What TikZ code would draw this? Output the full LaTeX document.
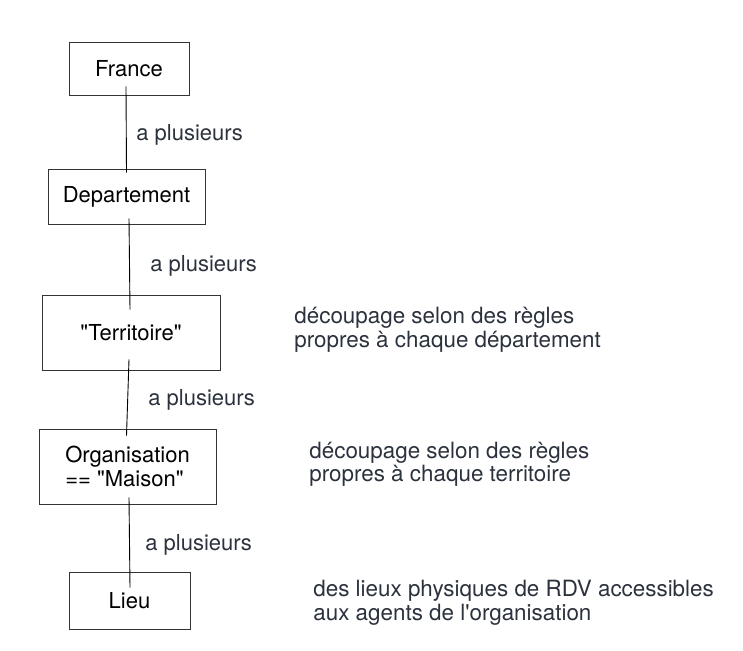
\documentclass[tikz,border=0pt]{standalone}
\usepackage{fontspec}
\setmainfont{TeX Gyre Heros}[Ligatures=TeXOff]
\usepackage{xcolor}
\usepackage{tikz}
\usetikzlibrary{positioning}

\definecolor{noteink}{HTML}{2B323D}
\definecolor{boxline}{HTML}{333333}

\begin{document}
\begin{tikzpicture}[x=1pt,y=-1pt,
                    thick,
                    entity/.style={rectangle,draw=boxline,line width=0.9pt,inner sep=0pt,
                                   font=\fontsize{22}{23.5}\selectfont},
                    link/.style={draw=black,line width=0.9pt},
                    rel/.style={anchor=base west,inner sep=0pt,text=noteink,
                                font=\fontsize{22}{23.5}\selectfont},
                    note/.style={anchor=base west,inner sep=0pt,text=noteink,align=left,
                                 font=\fontsize{22.4}{23.5}\selectfont}]

  \useasboundingbox (0,0) rectangle (743,650);

  \node[entity,minimum width=120pt,minimum height=53pt] (France) at (129,68.5) {France};
  \node[entity,minimum width=157pt,minimum height=55pt] (Dept) at (126.5,196.5) {Departement};
  \node[entity,minimum width=178pt,minimum height=75pt] (Terr) at (131,332.5) {"Territoire"};
  \node[entity,minimum width=177pt,minimum height=75pt,align=left] (Orga) at (127.5,466.5) {Organisation\\== "Maison"};
  \node[entity,minimum width=121pt,minimum height=57pt] (Lieu) at (129.5,600.5) {Lieu};

  \draw[link] ([shift={(-3,-9)}]France.south) -- ([shift={(0,4)}]Dept.north);
  \draw[link] ([shift={(2.5,-6)}]Dept.south) -- ([shift={(-1,15)}]Terr.north);
  \draw[link] ([shift={(-2,-11)}]Terr.south) -- ([shift={(-1,7)}]Orga.north);
  \draw[link] ([shift={(1.5,-7)}]Orga.south) -- ([shift={(0.5,16)}]Lieu.north);

  \node[rel] (rel1) at (136,140) {a plusieurs};
  \node[rel] (rel2) at (150,271) {a plusieurs};
  \node[rel] (rel3) at (148,405) {a plusieurs};
  \node[rel] (rel4) at (145,550.5) {a plusieurs};

  % base anchor sits on the last line
  \node[note] (noteTerr) at (294,347) {découpage selon des règles\\propres à chaque département};
  \node[note] (noteOrga) at (309,481.5) {découpage selon des règles\\propres à chaque territoire};
  \node[note] (noteLieu) at (313,620) {des lieux physiques de RDV accessibles\\aux agents de l'organisation};

\end{tikzpicture}
\end{document}
